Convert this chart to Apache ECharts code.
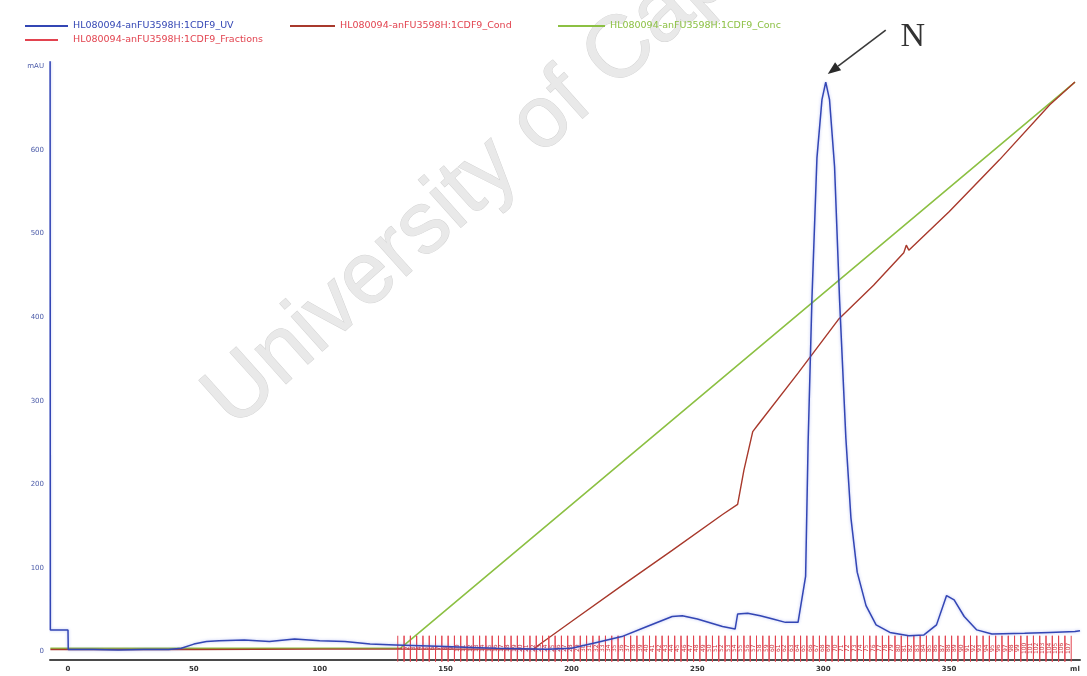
<!DOCTYPE html>
<html>
<head>
<meta charset="utf-8">
<script src="https://cdn.jsdelivr.net/npm/echarts@6/dist/echarts.min.js"></script>
<style>
  html, body { margin: 0; padding: 0; background: #ffffff; }
  #chart { width: 1087px; height: 676px; }
</style>
</head>
<body>
<div id="chart"></div>
<script>
// Run name used for every curve in the legend
const runName = 'HL080094-anFU3598H:1CDF9';

// UV absorbance trace (ml, mAU)
const uvMl  = [-7.1, -7.0, 0, 0.1, 10, 20, 30, 40, 45, 50, 55, 60, 70, 80, 90, 100, 110, 120, 130, 140,
               150, 160, 170, 180, 190, 200, 210, 220, 230, 240, 244, 250, 260, 265, 266, 270, 275, 280,
               285, 290, 293, 294, 295.5, 297.5, 299.5, 301, 302.5, 304.5, 306.5, 309, 311, 313.5, 317,
               321, 326.5, 334, 340, 345, 349, 352, 356, 361, 367, 380, 390, 400, 402];
const uvMau = [720, 26, 26, 2.5, 2.5, 2, 2.5, 2.5, 4, 9, 12, 13, 14, 12, 15, 13, 12, 9, 8, 7,
               6, 5, 4, 3.5, 3, 4, 11, 18, 30, 42, 43, 39, 30, 27, 45, 46, 43, 39,
               35, 35, 90, 250, 420, 590, 660, 681, 660, 580, 420, 255, 160, 95, 55,
               32, 23, 19, 20, 32, 67, 62, 42, 26, 21, 22, 23, 24, 25, 25];

// Conductivity trace (ml, value on the same scale)
const condMl  = [-7, 0, 50, 100, 150, 185, 187, 200, 220, 240, 260, 266, 268.5, 272, 274, 290, 306,
                 320, 332, 333, 334, 350, 370, 390, 400];
const condVal = [2.5, 2.5, 2.5, 3, 3, 3, 8, 36, 79, 121, 164, 176, 217, 263, 271, 333, 397,
                 438, 477, 486, 480, 526, 588, 654, 681];

// Gradient concentration (ml, value on the same scale)
const concMl  = [-7, 132, 400];
const concVal = [4, 4, 681];

// Fraction boundaries (ml)
const fractionEdges = [131, 133.5, 136, 138.5, 141, 143.5, 146, 148.5, 151, 153.5, 156, 158.5, 161, 163.5,
  166, 168.5, 171, 173.5, 176, 178.5, 181, 183.5, 186, 188.5, 191, 193.5, 196, 198.5, 201, 203.5, 206,
  208.5, 211, 213.5, 216, 218.5, 221, 223.5, 226, 228.5, 231, 233.5, 236, 238.5, 241, 243.5, 246, 248.5,
  251, 253.5, 256, 258.5, 261, 263.5, 266, 268.5, 271, 273.5, 276, 278.5, 281, 283.5, 286, 288.5, 291,
  293.5, 296, 298.5, 301, 303.5, 306, 308.5, 311, 313.5, 316, 318.5, 321, 323.5, 326, 328.5, 331, 333.5,
  336, 338.5, 341, 343.5, 346, 348.5, 351, 353.5, 356, 358.5, 361, 363.5, 366, 368.5, 371, 373.5, 376,
  378.5, 381, 383.5, 386, 388.5, 391, 393.5, 396, 398.5];

// Axis tick labels
const xTicks = [0, 50, 100, 150, 200, 250, 300, 350, 400];
const xUnit = 'ml';
const yTicks = [0, 100, 200, 300, 400, 500, 600, 700];
const yUnit = 'mAU';

const names = {
  uv: runName + '_UV',
  cond: runName + '_Cond',
  conc: runName + '_Conc',
  frac: runName + '_Fractions'
};

const colors = {
  uv: '#3346b4',
  cond: '#a8392c',
  conc: '#8cc043',
  frac: '#e2434f',
  fracText: '#c8303a'
};

const zip = (a, b) => a.map((v, i) => [v, b[i]]);

const fractionData = [];
for (let i = 0; i < fractionEdges.length - 1; i++) {
  fractionData.push([fractionEdges[i], fractionEdges[i + 1]]);
}

const chart = echarts.init(document.getElementById('chart'));

const legendBase = {
  icon: 'rect',
  itemHeight: 2,
  selectedMode: false,
  orient: 'horizontal'
};
const legendFont = { fontSize: 9.5, fontFamily: 'DejaVu Sans' };

const option = {
  backgroundColor: '#ffffff',
  animation: false,
  grid: { left: 50, right: 7, top: 62, bottom: 16, containLabel: false },
  legend: [
    Object.assign({}, legendBase, {
      data: [names.uv], left: 20, top: 16, itemWidth: 43,
      textStyle: Object.assign({ color: colors.uv }, legendFont)
    }),
    Object.assign({}, legendBase, {
      data: [names.cond], left: 285, top: 16, itemWidth: 45,
      textStyle: Object.assign({ color: colors.frac }, legendFont)
    }),
    Object.assign({}, legendBase, {
      data: [names.conc], left: 553, top: 16, itemWidth: 47,
      textStyle: Object.assign({ color: colors.conc }, legendFont)
    }),
    Object.assign({}, legendBase, {
      data: [names.frac], left: 20, top: 30, itemWidth: 33,
      textStyle: Object.assign({ color: colors.frac, padding: [0, 0, 0, 10] }, legendFont)
    })
  ],
  xAxis: {
    type: 'value',
    min: -7.15,
    max: 402,
    axisLine: { show: true, onZero: false, lineStyle: { color: '#4a4a4a', width: 2 } },
    axisTick: { show: false },
    splitLine: { show: false },
    axisLabel: {
      customValues: xTicks,
      formatter: v => (v === xTicks[xTicks.length - 1] ? xUnit : String(v)),
      color: '#333333',
      fontSize: 7,
      fontWeight: 'bold',
      fontFamily: 'DejaVu Sans',
      margin: 6
    }
  },
  yAxis: {
    type: 'value',
    min: -10,
    max: 705,
    axisLine: { show: false },
    axisTick: { show: false },
    splitLine: { show: false },
    axisLabel: {
      customValues: yTicks,
      formatter: v => (v === yTicks[yTicks.length - 1] ? yUnit : String(v)),
      color: '#4a5aa8',
      fontSize: 7,
      fontFamily: 'DejaVu Sans',
      margin: 6
    }
  },
  graphic: [
    {
      id: 'watermark',
      type: 'text',
      x: 218,
      y: 412,
      rotation: 0.73,
      z: 0,
      silent: true,
      style: {
        text: 'University of Cape Town',
        fill: '#e9e9e9',
        stroke: '#d4d4d4',
        lineWidth: 1,
        fontSize: 88,
        fontFamily: 'Liberation Sans',
        align: 'left',
        verticalAlign: 'middle'
      }
    }
  ],
  series: [
    {
      name: names.conc,
      type: 'line',
      data: zip(concMl, concVal),
      showSymbol: false,
      lineStyle: { color: colors.conc, width: 1.6 },
      itemStyle: { color: colors.conc },
      z: 3
    },
    {
      name: names.cond,
      type: 'line',
      data: zip(condMl, condVal),
      showSymbol: false,
      lineStyle: { color: colors.cond, width: 1.4 },
      itemStyle: { color: colors.cond },
      z: 4
    },
    {
      name: names.frac,
      type: 'custom',
      data: fractionData,
      clip: false,
      itemStyle: { color: colors.frac },
      encode: { x: [0, 1], y: [] },
      renderItem: function (params, api) {
        const a = api.value(0);
        const b = api.value(1);
        const topA = api.coord([a, 19]);
        const botA = api.coord([a, -12]);
        const topB = api.coord([b, 19]);
        const botB = api.coord([b, -12]);
        const mid = api.coord([(a + b) / 2, 4]);
        return {
          type: 'group',
          children: [
            { type: 'line', shape: { x1: topA[0], y1: topA[1], x2: botA[0], y2: botA[1] },
              style: { stroke: colors.frac, lineWidth: 1 } },
            { type: 'line', shape: { x1: topB[0], y1: topB[1], x2: botB[0], y2: botB[1] },
              style: { stroke: colors.frac, lineWidth: 1 } },
            { type: 'text', x: mid[0], y: mid[1], rotation: Math.PI / 2,
              style: { text: String(params.dataIndex + 1), fontSize: 6, fill: colors.fracText,
                       fontFamily: 'DejaVu Sans', align: 'center', verticalAlign: 'middle' } }
          ]
        };
      },
      z: 5
    },
    {
      name: names.uv,
      type: 'line',
      data: zip(uvMl, uvMau),
      showSymbol: false,
      lineStyle: { color: colors.uv, width: 1.5, shadowColor: 'rgba(90,110,230,0.45)', shadowBlur: 3 },
      itemStyle: { color: colors.uv },
      z: 6
    }
  ]
};

chart.setOption(option);

// Arrow and label pointing at the main UV peak (largest reading after injection)
let peakIdx = uvMl.findIndex(v => v >= 0);
uvMl.forEach((v, i) => {
  if (v >= 0 && uvMau[i] > uvMau[peakIdx]) peakIdx = i;
});
const peakPx = chart.convertToPixel({ gridIndex: 0 }, [uvMl[peakIdx], uvMau[peakIdx]]);
const tip = [peakPx[0] + 2, peakPx[1] - 8];
const tail = [tip[0] + 58, tip[1] - 44];
const dx = tip[0] - tail[0], dy = tip[1] - tail[1];
const len = Math.sqrt(dx * dx + dy * dy);
const ux = dx / len, uy = dy / len;
const headLen = 13, headHalf = 5;
const base = [tip[0] - ux * headLen, tip[1] - uy * headLen];
const head = [
  [tip[0], tip[1]],
  [base[0] - uy * headHalf, base[1] + ux * headHalf],
  [base[0] + uy * headHalf, base[1] - ux * headHalf]
];

chart.setOption({
  graphic: [
    {
      id: 'arrowLine', type: 'line', z: 20, silent: true,
      shape: { x1: tail[0], y1: tail[1], x2: base[0], y2: base[1] },
      style: { stroke: '#3a3a3a', lineWidth: 1.6 }
    },
    {
      id: 'arrowHead', type: 'polygon', z: 20, silent: true,
      shape: { points: head },
      style: { fill: '#2a2a2a' }
    },
    {
      id: 'peakLabel', type: 'text', z: 20, silent: true,
      x: tail[0] + 27, y: tail[1] + 7,
      style: { text: 'N', fontSize: 34, fontFamily: 'Liberation Serif', fill: '#333333',
               align: 'center', verticalAlign: 'middle' }
    }
  ]
});
</script>
</body>
</html>
